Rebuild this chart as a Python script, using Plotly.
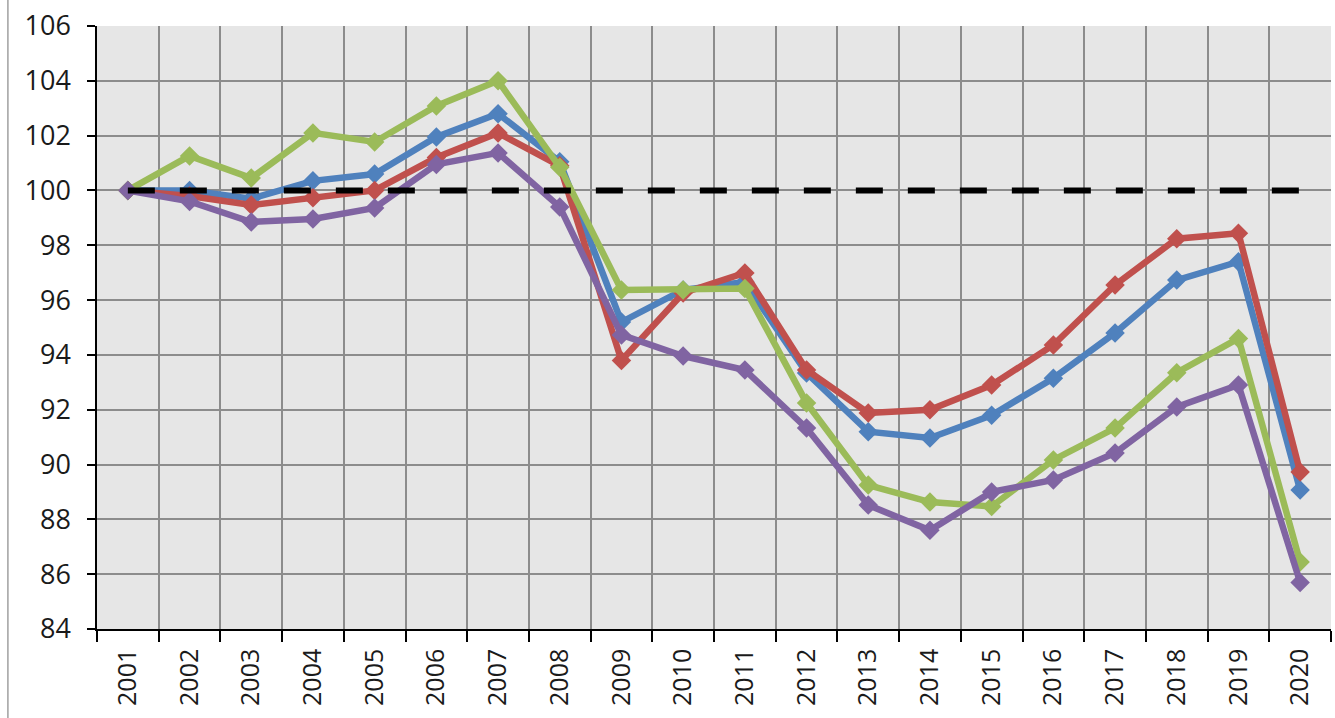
import plotly.graph_objects as go

years = [str(y) for y in range(2001, 2021)]

blue = [100.0, 100.0, 99.7, 100.35, 100.6, 101.95, 102.8, 101.05, 95.2, 96.37,
        96.66, 93.34, 91.2, 90.97, 91.8, 93.15, 94.8, 96.73, 97.4, 89.07]
red = [100.0, 99.8, 99.47, 99.73, 100.0, 101.2, 102.1, 100.9, 93.8, 96.26,
       96.99, 93.45, 91.88, 92.0, 92.9, 94.36, 96.55, 98.24, 98.44, 89.73]
green = [100.0, 101.26, 100.45, 102.1, 101.77, 103.08, 104.0, 100.85, 96.37, 96.37,
         96.42, 92.25, 89.25, 88.63, 88.47, 90.17, 91.33, 93.35, 94.6, 86.44]
purple = [100.0, 99.6, 98.85, 98.96, 99.36, 100.95, 101.37, 99.4, 94.73, 93.96,
          93.45, 91.33, 88.52, 87.6, 89.0, 89.44, 90.42, 92.1, 92.9, 85.7]
baseline = [100.0] * len(years)

series = [
    ("blue", blue, "#4F81BD"),
    ("red", red, "#C0504D"),
    ("green", green, "#9BBB59"),
    ("purple", purple, "#8064A2"),
]

fig = go.Figure()
for name, vals, col in series:
    fig.add_trace(go.Scatter(
        x=years, y=vals, name=name, mode="lines+markers",
        line=dict(color=col, width=6.5),
        marker=dict(symbol="diamond", size=15, color=col),
    ))

fig.add_trace(go.Scatter(
    x=years, y=baseline, mode="lines", name="100",
    line=dict(color="black", width=6, dash="27px,25px"),
))

xfont = dict(family="Open Sans, Liberation Sans, sans-serif", size=25, color="#1a1a1a")
yfont = dict(family="Open Sans, Liberation Sans, sans-serif", size=27, color="#1a1a1a")

fig.update_layout(
    width=1335, height=718,
    margin=dict(l=97, r=4, t=26, b=89),
    paper_bgcolor="white",
    plot_bgcolor="#E6E6E6",
    showlegend=False,
    font=xfont,
    xaxis=dict(
        type="category", range=[-0.5, 19.5], automargin=False,
        tickson="boundaries", ticks="outside", ticklen=11, tickwidth=1.5, tickcolor="black",
        tickangle=-90, ticklabelstandoff=8,
        showgrid=True, gridcolor="#8C8C8C", gridwidth=1.5,
        showline=True, linecolor="black", linewidth=1.5,
        tickfont=xfont, zeroline=False,
    ),
    yaxis=dict(
        range=[84, 106], dtick=2, tick0=84, automargin=False,
        ticks="outside", ticklen=8, tickwidth=1.5, tickcolor="black",
        ticklabelstandoff=11,
        showgrid=True, gridcolor="#8C8C8C", gridwidth=1.5,
        showline=True, linecolor="black", linewidth=1.5,
        tickfont=yfont, zeroline=False,
    ),
    shapes=[dict(type="line", xref="paper", yref="paper",
                 x0=-0.0722, x1=-0.0722, y0=-0.2, y1=1.1,
                 line=dict(color="#A0A0A0", width=1.5))],
)

fig.write_html("out.html", config={"displayModeBar": False},
               post_script="document.body.style.margin='0';document.body.style.overflow='hidden';")
